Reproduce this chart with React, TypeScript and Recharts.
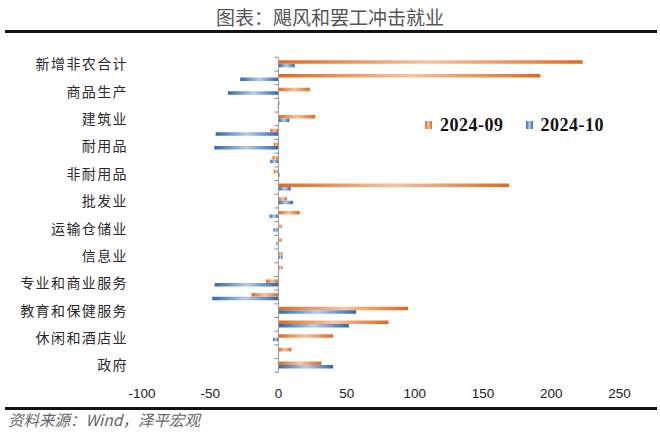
import React from "react";
import { BarChart, Bar, XAxis, YAxis, ReferenceLine } from "recharts";

// 非农分项：2024-09 vs 2024-10 新增就业（千人）
const categories = [
  "新增非农合计",
  "私人部门",
  "商品生产",
  "采矿业",
  "建筑业",
  "制造业",
  "耐用品",
  "汽车及零部件",
  "非耐用品",
  "服务生产",
  "批发业",
  "零售业",
  "运输仓储业",
  "公用事业",
  "信息业",
  "金融活动",
  "专业和商业服务",
  "临时帮助服务",
  "教育和保健服务",
  "医疗保健",
  "休闲和酒店业",
  "其他服务",
  "政府",
];
const sep = [223, 192, 23, 1, 27, -6, -3.5, -4.4, -3.5, 169, 6.3, 15.6, 2.5, 2.5, 3, 3, -9, -19.8, 95, 80.7, 40, 9.5, 31.5];
const oct = [12, -28, -37, -0.5, 8, -46, -47, -6, 1, 9, 10.7, -6.4, -3.7, -1.5, 3, 0.5, -46.7, -48.5, 57, 51.6, -4, 0.5, 40];
const seriesNames = ["2024-09", "2024-10"];
const xTicks = [-100, -50, 0, 50, 100, 150, 200, 250];

const W = 660;
const H = 433;
const PLOT_LEFT = 142;
const PLOT_RIGHT = 619.5;
const PLOT_TOP = 57.3;
const PLOT_BOTTOM = 372.3;
const X_AXIS_H = 30;
const LABEL_RIGHT = 128;
const X_MIN = xTicks[0];
const X_MAX = xTicks[xTicks.length - 1];
const ZERO_X = PLOT_LEFT + ((0 - X_MIN) / (X_MAX - X_MIN)) * (PLOT_RIGHT - PLOT_LEFT);
const BAND = (PLOT_BOTTOM - PLOT_TOP) / categories.length;

const ORANGE = { dark: "#e2691c", light: "#f9c39c" };
const BLUE = { dark: "#2b68b3", light: "#b5cce8" };

const data = categories.map((name, i) => ({ name, sep: sep[i], oct: oct[i] }));

const CJK = '"Noto Sans CJK SC", sans-serif';

function CategoryTick(props: any) {
  const { y, index, payload } = props;
  const top = y - BAND / 2;
  const last = index === categories.length - 1;
  return (
    <g>
      <line x1={ZERO_X - 4} x2={ZERO_X} y1={top} y2={top} stroke="#8a8a8a" strokeWidth={1} />
      {last && <line x1={ZERO_X - 4} x2={ZERO_X} y1={top + BAND} y2={top + BAND} stroke="#8a8a8a" strokeWidth={1} />}
      {index % 2 === 0 && (
        <text
          x={LABEL_RIGHT}
          y={y}
          dy="0.36em"
          textAnchor="end"
          fontSize={14}
          letterSpacing={1.4}
          fill="#2a2a2a"
          fontFamily={CJK}
        >
          {payload.value}
        </text>
      )}
    </g>
  );
}

function gradient(id: string, c: { dark: string; light: string }) {
  return (
    <linearGradient id={id} x1="0" y1="0" x2="1" y2="0">
      <stop offset="0%" stopColor={c.dark} />
      <stop offset="50%" stopColor={c.light} />
      <stop offset="100%" stopColor={c.dark} />
    </linearGradient>
  );
}

export default function App() {
  const legendItems = [
    { name: seriesNames[0], color: ORANGE },
    { name: seriesNames[1], color: BLUE },
  ];
  return (
    <div style={{ position: "relative", width: W, height: H, background: "#fff", overflow: "hidden" }}>
      <style>{"body{margin:0}"}</style>
      <div
        style={{
          position: "absolute",
          top: 3,
          left: 0,
          width: W,
          textAlign: "center",
          fontFamily: CJK,
          fontSize: 19,
          color: "#555",
          lineHeight: "28px",
        }}
      >
        图表：飓风和罢工冲击就业
      </div>
      <div style={{ position: "absolute", top: 30, left: 5, width: 652, height: 3, background: "#111" }} />

      <div style={{ position: "absolute", top: 0, left: 0 }}>
        <BarChart
          width={W}
          height={H}
          data={data}
          layout="vertical"
          margin={{ top: PLOT_TOP, right: W - PLOT_RIGHT, left: 0, bottom: H - PLOT_BOTTOM - X_AXIS_H }}
          barGap={0}
        >
          <defs>
            {gradient("gOrange", ORANGE)}
            {gradient("gBlue", BLUE)}
          </defs>
          <XAxis
            type="number"
            domain={[X_MIN, X_MAX]}
            ticks={xTicks}
            axisLine={false}
            tickLine={false}
            height={X_AXIS_H}
            tick={{ fontSize: 13.5, fill: "#222", fontFamily: '"Liberation Sans", Arial, sans-serif' }}
            tickMargin={10}
          />
          <YAxis
            type="category"
            dataKey="name"
            width={PLOT_LEFT}
            interval={0}
            axisLine={false}
            tickLine={false}
            tick={<CategoryTick />}
          />
          <ReferenceLine x={0} stroke="#9a9a9a" strokeWidth={1} />
          <Bar dataKey="sep" name={seriesNames[0]} fill="url(#gOrange)" barSize={3.5} isAnimationActive={false} />
          <Bar dataKey="oct" name={seriesNames[1]} fill="url(#gBlue)" barSize={3.5} isAnimationActive={false} />
        </BarChart>
      </div>

      <div
        style={{
          position: "absolute",
          top: 114,
          left: 425,
          display: "flex",
          alignItems: "center",
          fontFamily: '"Liberation Serif", "Times New Roman", serif',
          fontWeight: 700,
          fontSize: 18,
          color: "#111",
          lineHeight: "22px",
        }}
      >
        {legendItems.map((it, i) => (
          <div key={it.name} style={{ display: "flex", alignItems: "center", marginRight: i === 0 ? 22 : 0 }}>
            <span
              style={{
                display: "inline-block",
                width: 7,
                height: 8,
                marginRight: 8,
                background: `linear-gradient(90deg, ${it.color.dark}, ${it.color.light}, ${it.color.dark})`,
              }}
            />
            <span style={{ letterSpacing: 0.5 }}>{it.name}</span>
          </div>
        ))}
      </div>

      <div style={{ position: "absolute", top: 407, left: 5, width: 652, height: 3, background: "#111" }} />
      <div
        style={{
          position: "absolute",
          top: 409,
          left: 8,
          fontFamily: CJK,
          fontStyle: "italic",
          fontSize: 15.5,
          color: "#666",
          lineHeight: "20px",
        }}
      >
        资料来源：Wind，泽平宏观
      </div>
    </div>
  );
}
